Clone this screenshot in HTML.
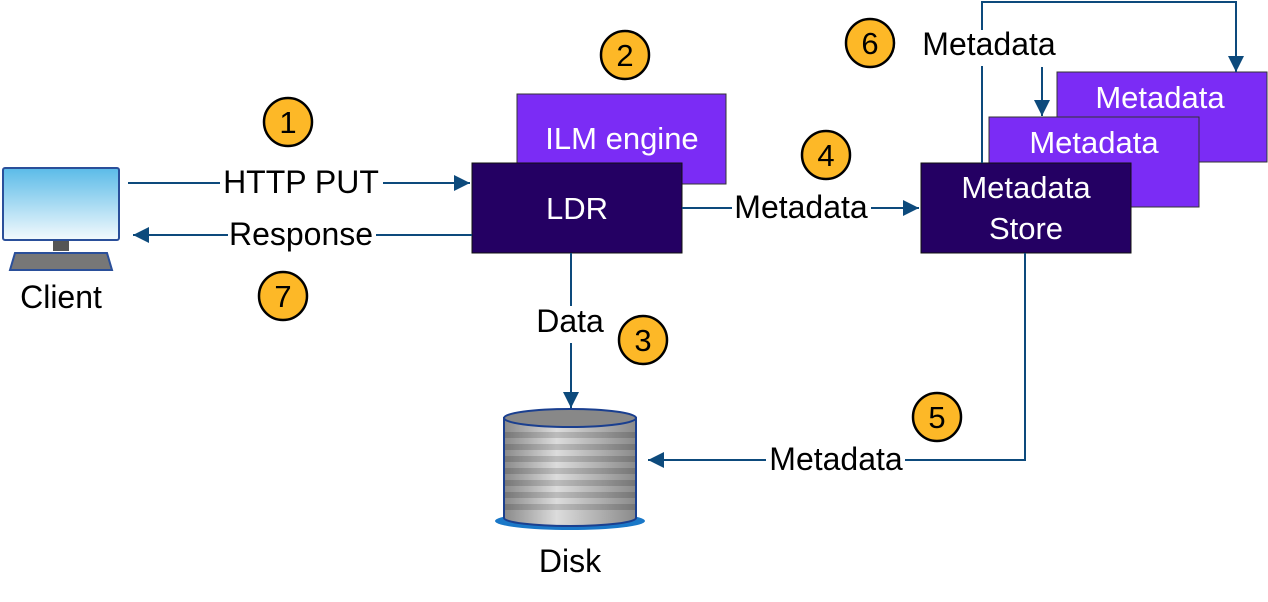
<!DOCTYPE html>
<html><head><style>
body{margin:0;background:#fff;width:1268px;height:597px;overflow:hidden}
text{font-family:"Liberation Sans",sans-serif}
</style></head><body>
<svg width="1268" height="597" viewBox="0 0 1268 597" xmlns="http://www.w3.org/2000/svg">
<defs>
<linearGradient id="scr" x1="0" y1="0" x2="0" y2="1"><stop offset="0" stop-color="#5bbbe8"/><stop offset="1" stop-color="#f4fafd"/></linearGradient>
<linearGradient id="cyl" x1="0" y1="0" x2="1" y2="0"><stop offset="0" stop-color="#8a8a8a"/><stop offset="0.4" stop-color="#dcdcdc"/><stop offset="1" stop-color="#8a8a8a"/></linearGradient>
<pattern id="stripes" width="10" height="12" patternUnits="userSpaceOnUse"><rect width="10" height="6" fill="#000" opacity="0.15"/></pattern>
<marker id="a" viewBox="0 0 10 10" markerWidth="20" markerHeight="16" refX="10" refY="5" orient="auto" markerUnits="userSpaceOnUse"><path d="M0,0 L10,5 L0,10 Z" fill="#0d4a7c"/></marker>
</defs>
<!-- client -->
<rect x="3" y="168" width="116" height="72" rx="2" fill="url(#scr)" stroke="#2a4f9a" stroke-width="2"/>
<rect x="53" y="241" width="16" height="10" fill="#555"/>
<path d="M15,253 L107,253 L112,270 L10,270 Z" fill="#777" stroke="#2a4f9a" stroke-width="2"/>
<text x="61" y="308" font-size="32" text-anchor="middle">Client</text>
<!-- boxes -->
<rect x="517" y="94" width="209" height="90" fill="#7b2cf5" stroke="#333" stroke-width="1"/>
<text x="622" y="149" font-size="31" fill="#fff" text-anchor="middle">ILM engine</text>
<rect x="472" y="163" width="210" height="90" fill="#240063" stroke="#111" stroke-width="1"/>
<text x="577" y="219" font-size="31" fill="#fff" text-anchor="middle">LDR</text>
<rect x="1057" y="72" width="210" height="90" fill="#7b2cf5" stroke="#333" stroke-width="1"/>
<text x="1160" y="108" font-size="31" fill="#fff" text-anchor="middle">Metadata</text>
<rect x="989" y="117" width="210" height="90" fill="#7b2cf5" stroke="#333" stroke-width="1"/>
<text x="1094" y="153" font-size="31" fill="#fff" text-anchor="middle">Metadata</text>
<rect x="921" y="163" width="210" height="90" fill="#240063" stroke="#111" stroke-width="1"/>
<text x="1026" y="198" font-size="31" fill="#fff" text-anchor="middle">Metadata</text>
<text x="1026" y="239" font-size="31" fill="#fff" text-anchor="middle">Store</text>
<!-- connectors -->
<g stroke="#0d4a7c" stroke-width="2" fill="none">
<line x1="128" y1="183" x2="220" y2="183"/><line x1="383" y1="183" x2="470" y2="183" marker-end="url(#a)"/>
<line x1="472" y1="235" x2="376" y2="235"/><line x1="228" y1="235" x2="133" y2="235" marker-end="url(#a)"/>
<line x1="682" y1="208" x2="732" y2="208"/><line x1="871" y1="208" x2="919" y2="208" marker-end="url(#a)"/>
<line x1="571" y1="253" x2="571" y2="306"/><line x1="571" y1="343" x2="571" y2="408" marker-end="url(#a)"/>
<polyline points="1025,253 1025,460 905,460"/><line x1="766" y1="460" x2="648" y2="460" marker-end="url(#a)"/>
<polyline points="982,30 982,2 1236,2 1236,72" marker-end="url(#a)"/>
<line x1="982" y1="66" x2="982" y2="163"/>
<line x1="1042" y1="67" x2="1042" y2="116" marker-end="url(#a)"/>
</g>
<g font-size="32" text-anchor="middle">
<text x="301" y="193">HTTP PUT</text>
<text x="301" y="245">Response</text>
<text x="801" y="218">Metadata</text>
<text x="570" y="332">Data</text>
<text x="836" y="470">Metadata</text>
<text x="989" y="55">Metadata</text>
<text x="570" y="572">Disk</text>
</g>
<!-- disk -->
<ellipse cx="570" cy="521" rx="75" ry="9" fill="#1a78c8"/>
<path d="M504,418 L504,518 A66,8 0 0 0 636,518 L636,418 Z" fill="url(#cyl)" stroke="#1a3f8f" stroke-width="2"/>
<path d="M505,428 L635,428 L635,516 L505,516 Z" fill="url(#stripes)"/>
<ellipse cx="570" cy="418" rx="66" ry="9" fill="#888" stroke="#1a3f8f" stroke-width="2"/>
<!-- circles -->
<g fill="#fdb827" stroke="#000" stroke-width="2.5">
<circle cx="288" cy="122" r="24"/><circle cx="625" cy="55" r="24"/><circle cx="826" cy="155" r="24"/>
<circle cx="870" cy="43" r="24"/><circle cx="283" cy="296" r="24"/><circle cx="643" cy="340" r="24"/><circle cx="937" cy="417" r="24"/>
</g>
<g font-size="31" text-anchor="middle">
<text x="288" y="133">1</text><text x="625" y="66">2</text><text x="826" y="166">4</text>
<text x="870" y="54">6</text><text x="283" y="307">7</text><text x="643" y="351">3</text><text x="937" y="428">5</text>
</g>
</svg>
</body></html>
